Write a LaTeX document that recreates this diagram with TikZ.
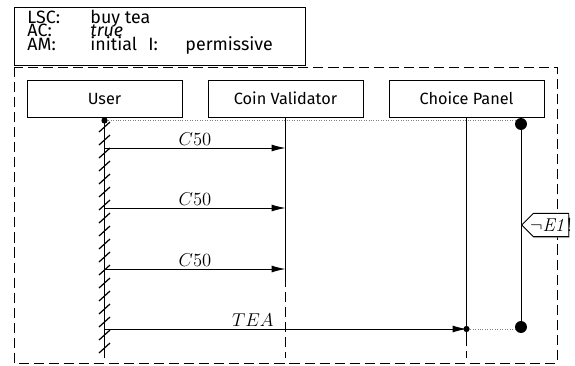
\documentclass[tikz,border=0pt]{standalone}
\usepackage[no-math]{fontspec}
\setmainfont{Fira Sans}
\usetikzlibrary{arrows.meta,shapes.symbols,shadows}
\begin{document}
\begin{tikzpicture}[x=0.645pt,y=-0.645pt,line width=0.6pt,
  inst/.style={draw,minimum width=100pt,minimum height=23.9pt,inner sep=0pt,
    font=\fontsize{10.5}{12}\selectfont},
  head/.style={anchor=base west,inner sep=0pt,font=\fontsize{11.5}{12}\selectfont},
  frame/.style={dash pattern=on 6.5pt off 3.2pt},
  msg/.style={-{Latex[length=9pt,width=4.5pt]}},
  lbl/.style={font=\fontsize{11.5}{13}\selectfont,inner sep=1.5pt},
  cold/.style={densely dotted,gray},
  hot/.style={circle,fill,inner sep=0pt,minimum size=7.7pt},
  pt/.style={circle,fill,inner sep=0pt,minimum size=4pt}]
\useasboundingbox (0,0) rectangle (575,365);

% Cabecera
\draw (14,7) rectangle (305,65);
\node (lsc)  [head] at (27,23) {LSC:};
\node (lscv) [head] at (90,23) {buy tea};
\node (ac)   [head] at (27,36.5) {AC:};
\node (acv)  [head] at (90,36.5) {\itshape true};
\node (am)   [head] at (27,50) {AM:};
\node (amv)  [head] at (90,50) {initial};
\node (il)   [head] at (148,50) {I:};
\node (ilv)  [head] at (185,50) {permissive};

% Marco
\draw[frame] (14,67) rectangle (557,363);

% Instancias
\node (user)   [inst] at (104.5,98.5) {User};
\node (coin)   [inst] at (285.5,98.5) {Coin Validator};
\node (choice) [inst] at (466.5,98.5) {Choice Panel};

% Lineas de vida
\coordinate (uend) at (104.5,358);
\coordinate (cmid) at (285.5,277);
\coordinate (cend) at (285.5,358);
\coordinate (pmid) at (466.5,336);
\coordinate (pend) at (466.5,358);
\draw (user.south) -- (uend);
\foreach \y in {127,140,...,356}
  \draw[line width=0.8pt] (99,\y+5) -- (110,\y-5);
\draw (coin.south) -- (cmid);
\draw[frame] (cmid) -- (cend);
\draw (choice.south) -- (pmid);
\draw[frame] (pmid) -- (pend);

% Inicio y fin
\node (udot) [pt] at (104.5,120.5) {};
\coordinate (ctop) at (521,124);
\coordinate (cbot) at (521,327);
\draw[cold] (udot) -- (udot -| ctop);
\draw (ctop) -- (cbot);

% Mensajes
\foreach \y in {148,208,269}
  \draw[msg] (user |- 0,\y) -- node[lbl,above] {$C50$} (coin |- 0,\y);
\draw[msg] (user |- 0,329) -- node[lbl,above,pos=0.41] {$TEA$} (choice |- 0,329);
\node (tea) [pt] at (choice |- 0,329) {};
\draw[cold] (tea) -- (tea -| cbot);
\node (top) [hot] at (ctop) {};
\node (bot) [hot] at (cbot) {};

% Condicion
\node (cond) [signal,signal to=west,draw,fill=white,anchor=west,
  inner xsep=-2pt,minimum height=15pt,font=\fontsize{11.5}{13}\selectfont,
  drop shadow={shadow xshift=0.5pt,shadow yshift=-1pt,opacity=0.5}]
  at (521,225) {$\neg\mathit{E1}!$\hspace{10pt}};
\end{tikzpicture}
\end{document}
